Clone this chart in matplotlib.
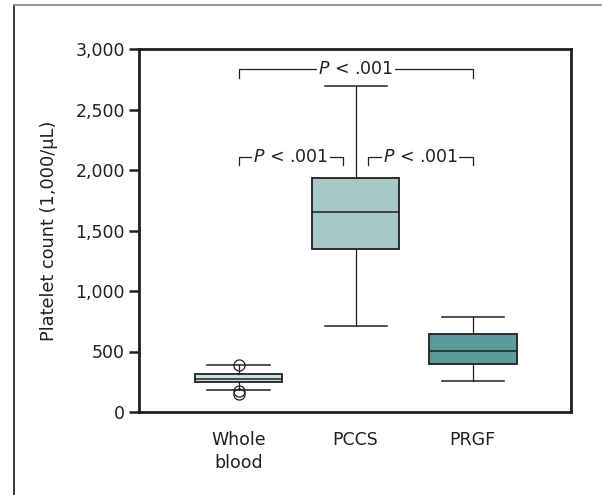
import matplotlib.pyplot as plt
from matplotlib.lines import Line2D

# ---- data ----
groups = ["Whole\nblood", "PCCS", "PRGF"]
whisker_low = [178, 708, 259]
q1 = [244, 1350, 400]
median = [272, 1652, 505]
q3 = [311, 1930, 642]
whisker_high = [386, 2695, 787]
outliers = [[386, 172, 145], [], []]
box_colors = ["#c9e1df", "#a6c8c6", "#5b9c99"]

y_ticks = [0, 500, 1000, 1500, 2000, 2500, 3000]
y_tick_labels = ["0", "500", "1,000", "1,500", "2,000", "2,500", "3,000"]

# significance brackets: (x_start, x_end, y level, drop)
sig_pairs = [(1, 3, 2832, 75), (1, 1.89, 2105, 65), (2.11, 3, 2105, 65)]
sig_text = r"$P$ < .001"

dark = "#231f20"
plt.rcParams["font.family"] = "DejaVu Sans"
plt.rcParams["mathtext.fontset"] = "dejavusans"

fig = plt.figure(figsize=(6.02, 4.95), dpi=100)
ax = fig.add_axes([139 / 602, 1 - 412 / 495, (571 - 139) / 602, (412 - 49) / 495])

stats = []
for i in range(len(groups)):
    stats.append(dict(label=groups[i], whislo=whisker_low[i], q1=q1[i], med=median[i],
                      q3=q3[i], whishi=whisker_high[i], fliers=outliers[i]))

bp = ax.bxp(stats, positions=[1, 2, 3], widths=0.75, capwidths=0.53, patch_artist=True,
            boxprops=dict(edgecolor=dark, linewidth=1.3),
            medianprops=dict(color=dark, linewidth=1.1),
            whiskerprops=dict(color=dark, linewidth=0.9),
            capprops=dict(color=dark, linewidth=1.1),
            flierprops=dict(marker="o", markersize=8, markerfacecolor="none",
                            markeredgecolor=dark, markeredgewidth=0.9))
for patch, c in zip(bp["boxes"], box_colors):
    patch.set_facecolor(c)

# brackets
for x0, x1, yl, drop in sig_pairs:
    ax.plot([x0, x0, x1, x1], [yl - drop, yl, yl, yl - drop], color=dark, lw=0.9,
            solid_joinstyle="miter", zorder=3)
    ax.text((x0 + x1) / 2, yl, sig_text, ha="center", va="center", fontsize=12.5,
            color=dark, zorder=4,
            bbox=dict(facecolor="white", edgecolor="none", pad=1.0))

ax.set_xlim(0.15, 3.84)
ax.set_ylim(0, 3000)
ax.set_yticks(y_ticks)
ax.set_yticklabels(y_tick_labels)
ax.set_xticks([1, 2, 3])
ax.set_xticklabels(groups, linespacing=1.35)
ax.tick_params(axis="x", length=0, pad=14, labelsize=12.5, labelcolor=dark)
ax.tick_params(axis="y", length=7, width=1.8, color=dark, pad=3, labelsize=12.5, labelcolor=dark)
ax.set_ylabel("Platelet count (1,000/\u03bcL)", fontsize=12.8, color=dark, labelpad=13)
for s in ax.spines.values():
    s.set_linewidth(2.0)
    s.set_color(dark)

# outer frame (left and top edges)
fig.add_artist(Line2D([13.5 / 602, 13.5 / 602], [0, 1 - 5 / 495], color="#2a2a2a", lw=1.3,
                      transform=fig.transFigure))
fig.add_artist(Line2D([13.5 / 602, 1], [1 - 5 / 495, 1 - 5 / 495], color="#8a8a8a", lw=1.3,
                      transform=fig.transFigure))

fig.savefig("out.png", dpi=100)
